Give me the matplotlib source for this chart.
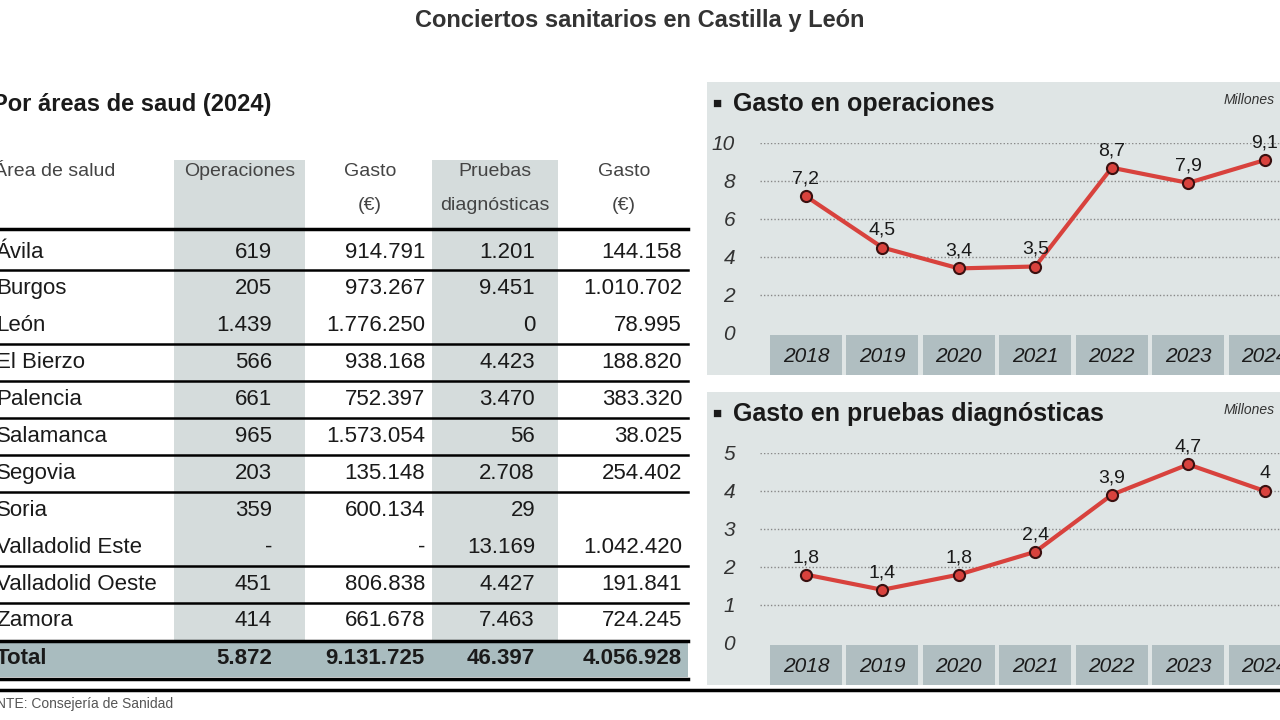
import numpy as np
import matplotlib
import matplotlib.pyplot as plt
from matplotlib.patches import Rectangle

plt.rcParams['font.family'] = ['Liberation Sans Narrow', 'Liberation Sans', 'DejaVu Sans']

# ---- data ----
areas = ['Ávila', 'Burgos', 'León', 'El Bierzo', 'Palencia', 'Salamanca', 'Segovia',
         'Soria', 'Valladolid Este', 'Valladolid Oeste', 'Zamora']
operaciones = ['619', '205', '1.439', '566', '661', '965', '203', '359', '-', '451', '414']
gasto_oper = ['914.791', '973.267', '1.776.250', '938.168', '752.397', '1.573.054',
              '135.148', '600.134', '-', '806.838', '661.678']
pruebas = ['1.201', '9.451', '0', '4.423', '3.470', '56', '2.708', '29', '13.169',
           '4.427', '7.463']
gasto_pruebas = ['144.158', '1.010.702', '78.995', '188.820', '383.320', '38.025',
                 '254.402', '', '1.042.420', '191.841', '724.245']
totales = ['5.872', '9.131.725', '46.397', '4.056.928']

years = [2018, 2019, 2020, 2021, 2022, 2023, 2024]
gasto_operaciones = [7.2, 4.5, 3.4, 3.5, 8.7, 7.9, 9.1]
gasto_diagnosticas = [1.8, 1.4, 1.8, 2.4, 3.9, 4.7, 4.0]

W, H = 1280, 720
fig = plt.figure(figsize=(12.8, 7.2), dpi=100)
fig.patch.set_facecolor('white')


def fx(px):
    return px / W


def fy(py):
    return 1 - py / H


def txt(x, y, s, **kw):
    fig.text(fx(x), fy(y), s, va='center', **kw)


def rect(x0, y0, x1, y1, color, **kw):
    fig.patches.append(Rectangle((fx(x0), fy(y1)), fx(x1) - fx(x0), fy(y0) - fy(y1),
                                 transform=fig.transFigure, facecolor=color,
                                 edgecolor='none', zorder=-5, **kw))


def hline(y, x0, x1, lw):
    fig.add_artist(plt.Line2D([fx(x0), fx(x1)], [fy(y), fy(y)], color='black', lw=lw,
                              transform=fig.transFigure))


grey_col = '#d5dcdc'
tot_col = '#a9bcbf'
TXT = '#1a1a1a'

txt(640, 21, 'Conciertos sanitarios en Castilla y León', ha='center', fontsize=17,
    fontweight='bold', color='#333333')
txt(-8, 104, 'Por áreas de saud (2024)', ha='left', fontsize=17, fontweight='bold', color=TXT)

# table
rect(174, 160, 305, 640, grey_col)
rect(432, 160, 558, 640, grey_col)
rect(0, 641, 688, 677, tot_col)

txt(-6, 172, 'Área de salud', ha='left', fontsize=14, color='#444444')
txt(240, 172, 'Operaciones', ha='center', fontsize=14, color='#444444')
txt(370, 172, 'Gasto', ha='center', fontsize=14, color='#444444')
txt(370, 205, '(€)', ha='center', fontsize=14, color='#444444')
txt(495, 172, 'Pruebas', ha='center', fontsize=14, color='#444444')
txt(495, 205, 'diagnósticas', ha='center', fontsize=14, color='#444444')
txt(624, 172, 'Gasto', ha='center', fontsize=14, color='#444444')
txt(624, 205, '(€)', ha='center', fontsize=14, color='#444444')

row_y = np.linspace(252, 621, len(areas))
step = row_y[1] - row_y[0]
hline(229, 0, 688, 2.5)
for i, a in enumerate(areas):
    y = row_y[i]
    txt(-4, y, a, ha='left', fontsize=16, color=TXT)
    txt(272, y, operaciones[i], ha='right', fontsize=16, color=TXT)
    txt(425, y, gasto_oper[i], ha='right', fontsize=16, color=TXT)
    txt(535, y, pruebas[i], ha='right', fontsize=16, color=TXT)
    txt(682, y, gasto_pruebas[i], ha='right', fontsize=16, color=TXT)
    if i < len(areas) - 1 and i not in (1, 7):
        hline(y + step / 2, 0, 688, 1.8)
hline(641, 0, 688, 2.5)
txt(-4, 659, 'Total', ha='left', fontsize=16, fontweight='bold', color=TXT)
for xr, v in zip([272, 425, 535, 682], totales):
    txt(xr, 659, v, ha='right', fontsize=16, fontweight='bold', color=TXT)
hline(679, 0, 688, 2.5)
hline(690, 0, 1280, 2.5)
txt(-4, 704, 'NTE: Consejería de Sanidad', ha='left', fontsize=10, color='#555555')


def chart(top, title, values, ymax, ystep):
    # panel
    rect(707, top, 1280, top + 293, '#dfe5e5')
    txt(712, top + 22, '■', ha='left', fontsize=11, color=TXT)
    txt(733, top + 22, title, ha='left', fontsize=18, fontweight='bold', color=TXT)
    txt(1224, top + 18, 'Millones', ha='left', fontsize=10, style='italic', color='#333333')
    y_top, y_zero = top + 61, top + 251
    ax = fig.add_axes([fx(760), fy(y_zero), fx(1280) - fx(760), fy(y_top) - fy(y_zero)])
    ax.set_facecolor('none')
    xs = np.arange(len(years))
    ax.set_xlim(-0.6, 6.2)
    ax.set_ylim(0, ymax)
    for v in np.arange(ystep, ymax + 0.01, ystep):
        ax.axhline(v, color='#888888', lw=1, ls=(0, (1, 1.5)), zorder=1)
    ax.plot(xs, values, color='#d8423d', lw=3, zorder=2, marker='o', ms=8,
            mfc='#d8423d', mec='#3a1010', mew=1.5, clip_on=False)
    for x, v in zip(xs, values):
        lab = f'{v:.1f}'.replace('.', ',') if v != int(v) else f'{int(v)}'
        ax.text(x, v + ymax * 0.045, lab, ha='center', va='bottom', fontsize=14, color=TXT)
    for s in ax.spines.values():
        s.set_visible(False)
    ax.set_xticks([])
    ax.set_yticks(np.arange(0, ymax + 0.01, ystep))
    ax.tick_params(axis='y', length=0, labelsize=15, pad=18, labelcolor='#333333')
    for lbl in ax.get_yticklabels():
        lbl.set_style('italic')
    # year band
    band = fig.add_axes([fx(760), fy(top + 293), fx(1280) - fx(760), fy(y_zero + 2) - fy(top + 293)])
    band.set_xlim(ax.get_xlim())
    band.set_ylim(0, 1)
    band.axis('off')
    for x, yr in zip(xs, years):
        band.add_patch(Rectangle((x - 0.47, 0), 0.94, 1, facecolor='#b0bec1', edgecolor='none'))
        band.text(x, 0.45, str(yr), ha='center', va='center', fontsize=15, style='italic',
                  color=TXT)


chart(82, 'Gasto en operaciones', gasto_operaciones, 10, 2)
chart(392, 'Gasto en pruebas diagnósticas', gasto_diagnosticas, 5, 1)

fig.savefig('out.png', dpi=100)
